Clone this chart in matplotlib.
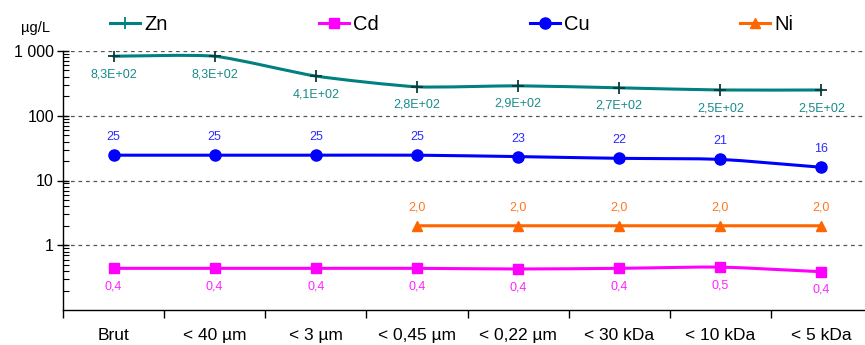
import numpy as np
import matplotlib
matplotlib.use("Agg")
import matplotlib.pyplot as plt
from matplotlib.path import Path
from matplotlib.patches import PathPatch
from matplotlib.lines import Line2D
from matplotlib.ticker import FixedLocator, NullFormatter, LogLocator

categories = ["Brut", "< 40 µm", "< 3 µm", "< 0,45 µm", "< 0,22 µm", "< 30 kDa", "< 10 kDa", "< 5 kDa"]
zn = [830, 830, 410, 280, 290, 270, 250, 250]
cd = [0.44, 0.44, 0.44, 0.44, 0.43, 0.44, 0.46, 0.39]
cu = [24.6, 24.6, 24.6, 24.6, 23.4, 22.0, 21.2, 16.0]
ni = [np.nan, np.nan, np.nan, 2.0, 2.0, 2.0, 2.0, 2.0]
series_names = ["Zn", "Cd", "Cu", "Ni"]
y_ticks = [1, 10, 100, 1000]
y_ticklabels = ["1", "10", "100", "1 000"]

plt.rcParams['font.family'] = ['Liberation Sans', 'DejaVu Sans']

fig = plt.figure(figsize=(8.65, 3.45), dpi=100)
ax = fig.add_axes([63/865, 35/345, 809/865, 259/345])
ax.set_yscale('log')
ax.set_ylim(0.1, 1000)
ax.set_xlim(-0.5, len(categories) - 0.5)


def smooth_path(xs, ys, k=10.0):
    xs = np.asarray(xs, float)
    ly = np.log10(np.asarray(ys, float))
    n = len(xs)
    verts = [(xs[0], ly[0])]
    codes = [Path.MOVETO]
    for i in range(n - 1):
        p0 = np.array([xs[max(i - 1, 0)], ly[max(i - 1, 0)]])
        p1 = np.array([xs[i], ly[i]])
        p2 = np.array([xs[i + 1], ly[i + 1]])
        p3 = np.array([xs[min(i + 2, n - 1)], ly[min(i + 2, n - 1)]])
        c1 = p1 + (p2 - p0) / k
        c2 = p2 - (p3 - p1) / k
        verts += [tuple(c1), tuple(c2), tuple(p2)]
        codes += [Path.CURVE4] * 3
    verts = [(x, 10 ** y) for x, y in verts]
    return Path(verts, codes)


styles = {
    "Zn": dict(color="#008080", marker="+", ms=9, mec="#0b3b3b", mew=1.3, lw=2.2),
    "Cd": dict(color="#FF00FF", marker="s", ms=7, mec="#FF00FF", mew=1, lw=2.2),
    "Cu": dict(color="#0000FF", marker="o", ms=8, mec="#0000FF", mew=1, lw=2.2),
    "Ni": dict(color="#FF6600", marker="^", ms=7.5, mec="#FF6600", mew=1, lw=2.2),
}
label_colors = {"Zn": "#1a8a8a", "Cd": "#FF22FF", "Cu": "#2b2bff", "Ni": "#FF7722"}

data = {"Zn": zn, "Cd": cd, "Cu": cu, "Ni": ni}
x = np.arange(len(categories))

for name in series_names:
    vals = np.asarray(data[name], float)
    st = styles[name]
    mask = ~np.isnan(vals)
    xs, ys = x[mask], vals[mask]
    patch = PathPatch(smooth_path(xs, ys), fill=False, edgecolor=st["color"], lw=st["lw"],
                      transform=ax.transData, zorder=3, capstyle='round', joinstyle='round')
    ax.add_patch(patch)
    ax.plot(xs, ys, linestyle='none', marker=st["marker"], ms=st["ms"], color=st["color"],
            mec=st["mec"], mew=st["mew"], zorder=4)
    for xi, yi in zip(xs, ys):
        if name == "Zn":
            txt = f"{yi:.1E}".replace('.', ',')
            off = -13
        elif name == "Cd":
            txt = f"{yi:.1f}".replace('.', ',')
            off = -13
        elif name == "Cu":
            txt = f"{yi:.0f}"
            off = 13
        else:
            txt = f"{yi:.1f}".replace('.', ',')
            off = 13
        ax.annotate(txt, (xi, yi), xytext=(0, off), textcoords='offset points',
                    ha='center', va='center', fontsize=9, color=label_colors[name])

# axes styling
ax.yaxis.set_major_locator(FixedLocator(y_ticks))
ax.set_yticklabels(y_ticklabels)
ax.yaxis.set_minor_locator(LogLocator(base=10, subs=np.arange(2, 10)))
ax.yaxis.set_minor_formatter(NullFormatter())
ax.tick_params(axis='y', which='major', direction='inout', length=9, width=1, labelsize=11.5, pad=2)
ax.tick_params(axis='y', which='minor', direction='in', length=4, width=0.8)
ax.grid(axis='y', which='major', linestyle=(0, (3, 3)), color='#555555', lw=0.9)

ax.set_xticks(x)
ax.set_xticklabels(categories, fontsize=12.5)
ax.set_xticks(np.arange(-0.5, len(categories), 1), minor=True)
ax.tick_params(axis='x', which='major', length=0, pad=13)
ax.tick_params(axis='x', which='minor', direction='out', length=6, width=1)

for s in ['top', 'right']:
    ax.spines[s].set_visible(False)
ax.spines['left'].set_linewidth(1.0)
ax.spines['bottom'].set_linewidth(1.0)

fig.text(36/865, 1 - 28/345, "µg/L", fontsize=10.5, ha='center', va='center')

legend_x = [110, 319, 530, 740]
for n, lx in zip(series_names, legend_x):
    st = styles[n]
    h = Line2D([], [], color=st["color"], marker=st["marker"], ms=st["ms"],
               mec=st["color"], mew=st["mew"], lw=2.2)
    leg = fig.legend([h], [n], loc='center left', bbox_to_anchor=(lx/865, 1 - 25/345),
                     frameon=False, fontsize=14.5, handlelength=1.5, handletextpad=0.2,
                     borderpad=0, borderaxespad=0)

fig.savefig("out.png", dpi=100)
